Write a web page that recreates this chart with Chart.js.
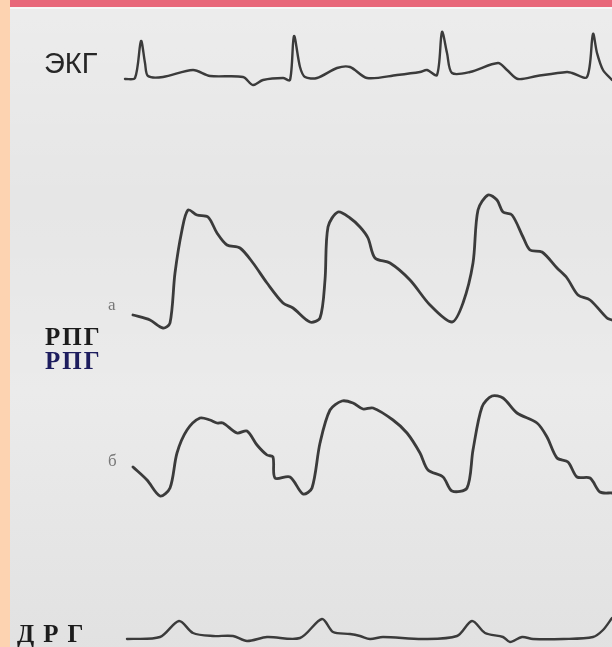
<!DOCTYPE html>
<html>
<head>
<meta charset="utf-8">
<script src="https://cdn.jsdelivr.net/npm/chart.js@4/dist/chart.umd.min.js"></script>
<style>
  html, body { margin: 0; padding: 0; }
  body { width: 612px; height: 647px; position: relative; overflow: hidden; background: #e7e7e7; }
  #paper { position: absolute; left: 10px; top: 9px; right: 0; bottom: 0;
    background:
      linear-gradient(180deg, rgba(255,255,255,0.25) 0%, rgba(255,255,255,0) 30%, rgba(255,255,255,0.2) 60%, rgba(0,0,0,0.02) 100%),
      #e6e6e6; }
  #pinkBar { position: absolute; left: 10px; top: 0; right: 0; height: 7px; background: #e8687a; }
  #whiteLine { position: absolute; left: 10px; top: 7px; right: 0; height: 2px; background: #f7f7f7; }
  #peach { position: absolute; left: 0; top: 0; width: 10px; bottom: 0; background: #fdd3b1; }
  canvas { position: absolute; left: 0; top: 0; }
  .lbl { position: absolute; white-space: nowrap; line-height: 1; }
  .sans { font-family: "Liberation Sans", Arial, sans-serif; font-size: 29px; color: #262626; }
  .serif { font-family: "Liberation Serif", "Times New Roman", serif; font-weight: bold; font-size: 25px; letter-spacing: 2px; }
  .small { font-family: "Liberation Serif", serif; font-size: 17px; color: #777; }
</style>
</head>
<body>
<div id="paper"></div>
<div id="pinkBar"></div>
<div id="whiteLine"></div>
<div id="peach"></div>
<canvas id="traces" width="612" height="647"></canvas>
<div class="lbl sans" style="left:44px; top:49px;">ЭКГ</div>
<div class="lbl small" style="left:108px; top:296px;">а</div>
<div class="lbl serif" style="left:45px; top:324px; color:#1c1c1c;">РПГ</div>
<div class="lbl serif" style="left:45px; top:348px; color:#1d1d5e;">РПГ</div>
<div class="lbl small" style="left:108px; top:452px;">б</div>
<div class="lbl serif" style="left:17px; top:621px; color:#1c1c1c; letter-spacing:9px;">ДРГ</div>
<script>
// traces (x in px along the strip, y in px down the page)
const ecgX = [125, 135, 141, 145, 148, 163, 193, 210, 243, 253, 263, 283, 290, 294, 300, 305, 317, 337, 350, 367, 397, 420, 427, 437, 442, 447, 452, 470, 498, 507, 518, 537, 567, 572, 587, 593, 597, 603, 612];
const ecgY = [79, 78, 41, 63, 76, 77, 70, 76, 77, 85, 80, 78, 80, 36, 67, 77, 78, 68, 67, 78, 75, 72, 70, 75, 32, 53, 73, 72, 63, 70, 79, 76, 72, 73, 77, 34, 53, 70, 80];

const rpgAX = [133, 150, 163, 170, 175, 182, 188, 197, 208, 217, 227, 240, 253, 267, 283, 293, 310, 320, 325, 328, 338, 350, 360, 368, 375, 390, 410, 430, 452, 463, 473, 478, 488, 497, 503, 512, 523, 530, 542, 557, 567, 578, 590, 607, 612];
const rpgAY = [315, 320, 328, 323, 273, 230, 210, 215, 217, 233, 245, 248, 263, 283, 303, 308, 322, 318, 280, 227, 212, 218, 227, 238, 258, 263, 280, 305, 322, 303, 263, 210, 195, 200, 212, 215, 237, 250, 252, 268, 278, 295, 300, 318, 320];

const rpgBX = [133, 147, 160, 170, 177, 187, 200, 210, 217, 223, 237, 247, 257, 267, 273, 275, 290, 303, 312, 320, 330, 342, 353, 363, 373, 393, 407, 420, 428, 443, 452, 467, 473, 482, 492, 503, 517, 537, 547, 557, 568, 577, 590, 600, 612];
const rpgBY = [467, 480, 496, 488, 453, 430, 418, 420, 423, 423, 433, 431, 445, 455, 457, 478, 477, 494, 488, 443, 410, 401, 403, 409, 408, 420, 433, 453, 470, 477, 491, 488, 450, 407, 396, 398, 413, 423, 437, 458, 462, 477, 478, 492, 493];

const drgX = [127, 160, 179, 193, 213, 233, 247, 267, 300, 322, 333, 350, 360, 370, 383, 423, 457, 472, 485, 503, 510, 522, 533, 563, 593, 603, 612];
const drgY = [639, 637, 621, 633, 636, 636, 641, 637, 638, 619, 632, 634, 636, 639, 637, 639, 636, 621, 633, 637, 642, 637, 639, 639, 637, 630, 618];

const inkColor = '#3b3b3b';

function toPoints(xs, ys) {
    return xs.map((x, i) => ({ x: x, y: ys[i] }));
}

function trace(label, xs, ys, width) {
    return { label: label, data: toPoints(xs, ys), borderColor: inkColor, borderWidth: width,
             pointRadius: 0, tension: 0.3, fill: false, borderCapStyle: 'round', borderJoinStyle: 'round' };
}

const ctx = document.getElementById('traces').getContext('2d');
new Chart(ctx, {
    type: 'line',
    data: { datasets: [
        trace('ЭКГ', ecgX, ecgY, 2.4),
        trace('РПГ а', rpgAX, rpgAY, 2.8),
        trace('РПГ б', rpgBX, rpgBY, 2.8),
        trace('ДРГ', drgX, drgY, 2.4)
    ]},
    options: {
        responsive: false, animation: false,
        layout: { padding: 0 },
        plugins: { legend: { display: false }, tooltip: { enabled: false } },
        scales: {
            x: { type: 'linear', min: 0, max: 612, display: false },
            y: { type: 'linear', min: 0, max: 647, reverse: true, display: false }
        }
    }
});
</script>
</body>
</html>
